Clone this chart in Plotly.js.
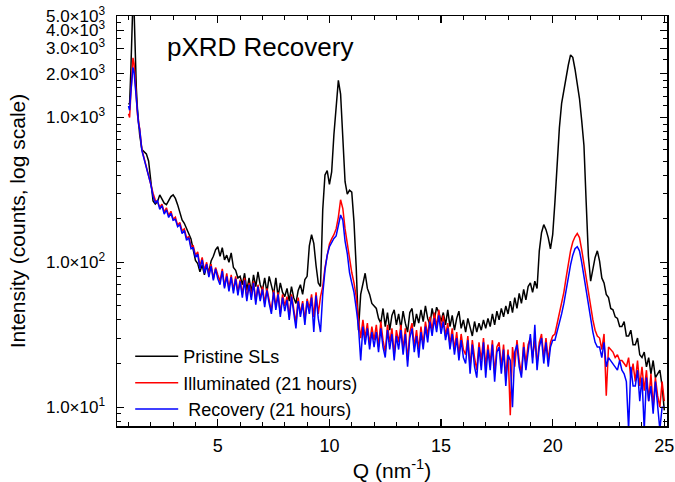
<!DOCTYPE html>
<html><head><meta charset="utf-8">
<script src="https://cdn.plot.ly/plotly-3.0.1.min.js"></script>
<style>body{margin:0;background:#fff}#chart{width:675px;height:482px}</style>
</head><body><div id="chart"></div>
<script>
// Q (nm^-1)
const Q = [
1.0,1.05,1.1,1.15,1.2,1.25,1.3,1.35,1.4,1.45,1.5,
1.6,1.7,1.8,1.9,2.0,
2.1,2.2,2.3,2.4,2.5,2.6,2.7,2.8,2.9,3.0,
3.1,3.2,3.3,3.4,3.5,3.6,3.7,3.8,3.9,4.0,
4.1,4.2,4.3,4.4,4.5,4.6,4.7,4.8,4.9,5.0,
5.1,5.2,5.3,5.4,5.5,5.6,5.7,5.8,5.9,6.0,
6.1,6.2,6.3,6.4,6.5,6.6,6.7,6.8,6.9,7.0,
7.1,7.2,7.3,7.4,7.5,7.6,7.7,7.8,7.9,8.0,
8.1,8.2,8.3,8.4,8.5,8.6,8.7,8.8,8.9,9.0,
9.1,9.2,9.3,9.4,9.5,9.6,9.7,9.8,9.9,10.0,
10.1,10.2,10.3,10.4,10.5,10.6,10.7,10.8,10.9,11.0,
11.1,11.2,11.3,11.4,11.5,11.6,11.7,11.8,11.9,12.0,
12.1,12.2,12.3,12.4,12.5,12.6,12.7,12.8,12.9,13.0,
13.1,13.2,13.3,13.4,13.5,13.6,13.7,13.8,13.9,14.0,
14.1,14.2,14.3,14.4,14.5,14.6,14.7,14.8,14.9,15.0,
15.1,15.2,15.3,15.4,15.5,15.6,15.7,15.8,15.9,16.0,
16.1,16.2,16.3,16.4,16.5,16.6,16.7,16.8,16.9,17.0,
17.1,17.2,17.3,17.4,17.5,17.6,17.7,17.8,17.9,18.0,
18.1,18.2,18.3,18.4,18.5,18.6,18.7,18.8,18.9,19.0,
19.1,19.2,19.3,19.4,19.5,19.6,19.7,19.8,19.9,20.0,
20.1,20.2,20.3,20.4,20.5,20.6,20.7,20.8,20.9,21.0,
21.1,21.2,21.3,21.4,21.5,21.6,21.7,21.8,21.9,22.0,
22.1,22.2,22.3,22.4,22.5,22.6,22.7,22.8,22.9,23.0,
23.1,23.2,23.3,23.4,23.5,23.6,23.7,23.8,23.9,24.0,
24.1,24.2,24.3,24.4,24.5,24.6,24.7,24.8,24.9,25.0
];

const pristine = [
1230,1250,2000,4000,6500,5500,2800,1600,1150,900,760,
600,575,560,500,360,
265,252,262,292,272,256,250,268,284,292,
276,250,224,196,186,172,158,145,122,103,
98,86,96,82,94,86,102,110,122,128,
110,126,104,112,100,116,92,88,78,80,
70,84,64,78,62,82,68,86,70,64,
78,62,80,68,60,78,58,72,62,58,
66,54,68,57,52,64,70,60,76,80,
130,155,135,95,72,68,230,400,430,345,
420,760,1250,1800,1450,650,360,295,315,305,
190,92,34,60,70,84,66,60,52,50,
48,41,38,48,36,45,34,43,47,37,
44,35,46,38,33,45,48,36,44,38,
47,39,50,41,37,48,40,49,45,39,
45,37,47,36,43,34,41,46,35,40,
33,41,35,31,39,33,38,34,40,35,
41,36,44,37,46,40,48,42,50,44,
54,45,57,48,61,52,65,55,68,72,
62,74,66,120,160,182,168,148,124,155,
260,480,850,1250,1550,1900,2300,2700,2600,2150,
1750,1350,950,640,260,110,74,90,108,120,
102,78,72,60,57,48,47,42,41,36,
36,39,31,31,34,27,27,30,23,22,
24,19,22,17,21,16,17,18,14,9.5
];

const illuminated = [
1060,1000,1400,2100,2580,2350,1750,1300,1050,920,840,
600,520,460,400,350,
300,268,262,240,252,222,238,210,225,198,
205,180,188,165,170,148,150,128,130,112,
118,94,108,88,100,82,97,77,92,82,
74,90,68,84,66,82,64,80,62,76,
60,78,56,72,58,74,54,70,56,68,
52,66,55,46,64,50,62,44,60,50,
58,42,60,47,38,57,44,54,40,56,
48,60,42,62,44,58,68,92,115,134,
145,155,170,205,270,235,170,135,100,85,
72,58,40,30,40,30,38,27,36,29,
37,26,39,29,24,37,28,35,23,34,
28,37,25,35,21,33,38,26,34,25,
36,27,39,31,42,34,45,36,47,35,
43,31,38,27,35,25,33,23,32,25,
23,31,19,29,22,18,28,21,30,19,
27,20,29,17,26,28,19,27,16,25,
8.8,26,19,29,21,17,28,20,27,30,
22,29,20,28,32,22,30,21,28,31,
32,38,44,52,62,78,100,120,138,150,
158,148,122,96,76,60,48,40,34,31,
30,25,32,12,26,25,24,22,23,21,
21,20,19,22,16,20,15,21,14,19,
13,18,11,17,10,16,12,10,15,11
];

const recovery = [
1200,1120,1450,1950,2210,2050,1650,1250,1020,900,830,
590,515,455,395,345,
285,258,266,232,246,215,230,204,218,195,
198,176,182,158,166,142,148,124,126,108,
114,90,104,84,97,79,94,75,90,77,
70,87,66,80,63,79,61,77,59,74,
57,75,54,70,55,72,51,68,54,65,
49,64,52,44,62,47,60,42,57,46,
55,40,58,44,35,54,42,52,37,54,
44,57,33,59,41,33,60,88,112,128,
138,146,152,185,212,195,140,115,85,72,
62,48,36,21,36,27,35,25,33,26,
33,24,35,26,22,34,25,32,21,31,
25,34,23,32,19,30,35,24,31,22,
33,25,36,28,39,31,41,33,43,32,
39,29,35,25,32,23,30,21,29,22,
20,29,17,27,19,16,26,18,28,16,
25,18,27,15,24,26,17,25,14,23,
21,10,24,27,19,16,26,18,25,32,
20,37,18,26,30,20,28,19,26,29,
29,33,38,44,52,64,80,96,112,124,
128,120,100,80,62,50,40,33,28,26,
26,22,28,19,22,21,20,19,18,21,
18,17,15,7,19,14,14,18,11,16,
7,16,11,14,9,15,10,7,10,10
];

const seriesNames = ['Pristine SLs', 'Illuminated (21 hours)', '\u00a0Recovery (21 hours)'];
const seriesColors = ['#000000', '#ff0000', '#0000ff'];

const xTickVals = [5, 10, 15, 20, 25];
const xTickText = ['5', '10', '15', '20', '25'];
const yTickVals = [10, 100, 1000, 2000, 3000, 4000, 5000];
const yTickText = ['1.0\u00d710<sup>1</sup>', '1.0\u00d710<sup>2</sup>', '1.0\u00d710<sup>3</sup>',
                   '2.0\u00d710<sup>3</sup>', '3.0\u00d710<sup>3</sup>', '4.0\u00d710<sup>3</sup>', '5.0\u00d710<sup>3</sup>'];
const yMinorVals = [8, 9, 20, 30, 40, 50, 60, 70, 80, 90, 200, 300, 400, 500, 600, 700, 800, 900,
                    1200, 1400, 1600, 1800, 2500, 3500, 4500];

const ys = [pristine, illuminated, recovery];
const traces = ys.map((y, i) => ({
  type: 'scatter', mode: 'lines', x: Q, y: y, name: seriesNames[i],
  line: {color: seriesColors[i], width: 1.5}
}));

const layout = {
  width: 675, height: 482,
  margin: {l: 117, r: 8, t: 16, b: 56},
  paper_bgcolor: '#ffffff', plot_bgcolor: '#ffffff',
  font: {family: 'Liberation Sans, Arial, sans-serif', color: '#000', size: 18},
  showlegend: true,
  legend: {x: 0.024, y: -0.005, xanchor: 'left', yanchor: 'bottom', bgcolor: 'rgba(0,0,0,0)',
           font: {size: 18}, itemwidth: 43},
  xaxis: {
    range: [0.485, 25.12], showline: true, linecolor: '#000', linewidth: 1.5, mirror: 'allticks',
    ticks: 'inside', ticklen: 7, tickwidth: 1.2, tickcolor: '#000',
    tickmode: 'array', tickvals: xTickVals, ticktext: xTickText, tickfont: {size: 18},
    ticklabelstandoff: 3, ticklabeloverflow: 'allow',
    showgrid: false, zeroline: false, automargin: false,
    minor: {ticks: 'inside', ticklen: 4, tickwidth: 1, tickcolor: '#000', tickmode: 'linear', tick0: 0, dtick: 1, showgrid: false},
    title: {text: 'Q (nm<sup>-1</sup>)', font: {size: 21}, standoff: 5}
  },
  yaxis: {
    type: 'log', range: [0.87, 3.70], showline: true, linecolor: '#000', linewidth: 1.5, mirror: 'allticks',
    ticks: 'inside', ticklen: 7, tickwidth: 1.2, tickcolor: '#000',
    tickmode: 'array', tickvals: yTickVals, ticktext: yTickText, tickfont: {size: 17},
    ticklabelstandoff: 7, ticklabeloverflow: 'allow',
    showgrid: false, zeroline: false, automargin: false,
    minor: {ticks: 'inside', ticklen: 4, tickwidth: 1, tickcolor: '#000', tickmode: 'array', tickvals: yMinorVals, showgrid: false},
    title: {text: 'Intensity (counts, log scale)', font: {size: 21}, standoff: 14}
  },
  annotations: [{
    text: 'pXRD Recovery', xref: 'paper', yref: 'paper', x: 0.087, y: 0.924,
    xanchor: 'left', yanchor: 'middle', showarrow: false, font: {size: 26}
  }]
};

Plotly.newPlot('chart', traces, layout, {displayModeBar: false, staticPlot: true});
</script>
</body></html>
